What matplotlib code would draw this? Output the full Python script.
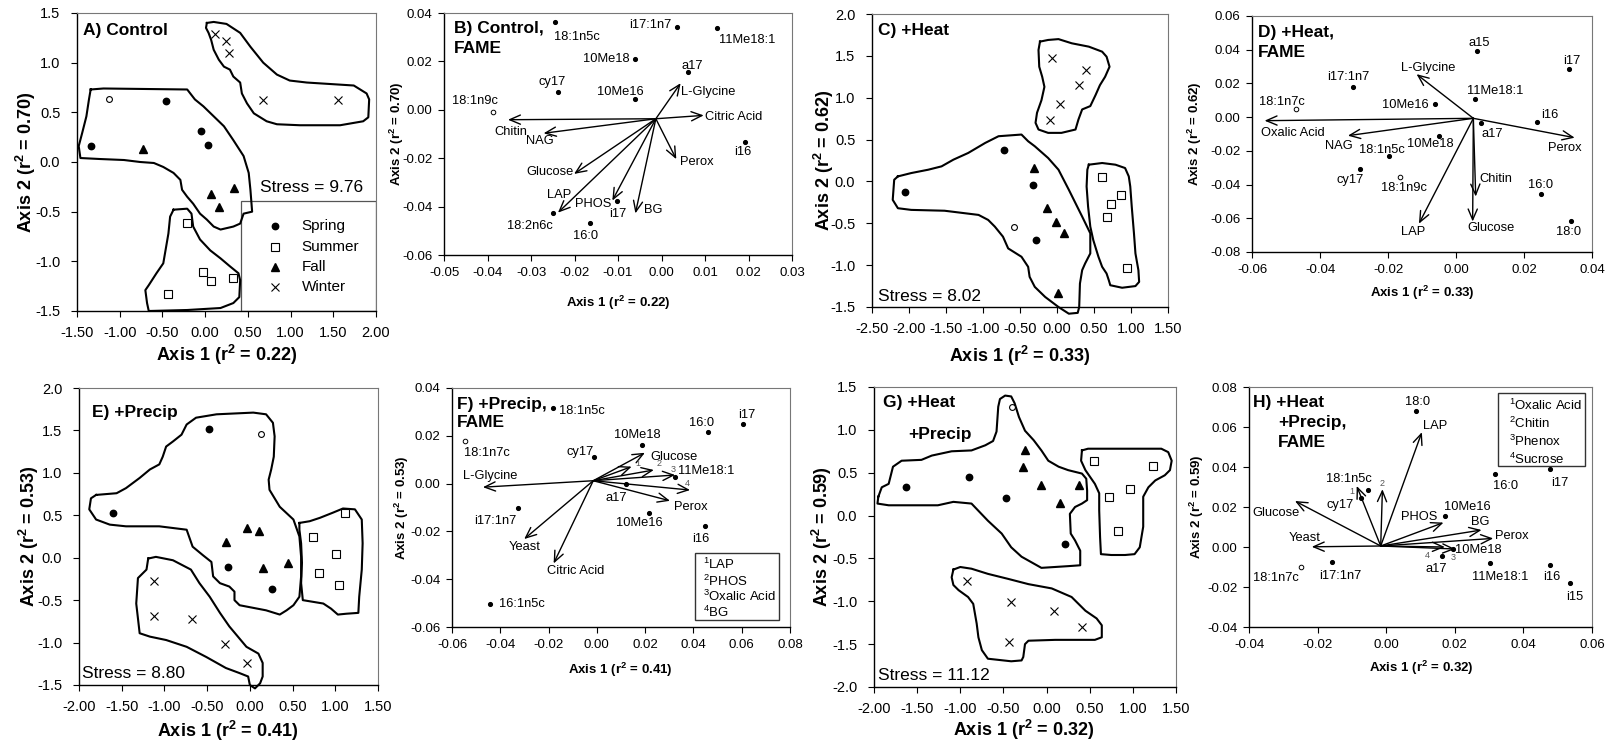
import numpy as np
import matplotlib
matplotlib.use('Agg')
import matplotlib.pyplot as plt
from matplotlib.patches import Rectangle

plt.rcParams['font.family'] = ['Liberation Sans', 'DejaVu Sans']
plt.rcParams['mathtext.fontset'] = 'custom'
plt.rcParams['mathtext.rm'] = 'Liberation Sans'
plt.rcParams['mathtext.bf'] = 'Liberation Sans:bold'
plt.rcParams['mathtext.it'] = 'Liberation Sans:italic'

W, H = 1610, 746

# ---------------- NMDS panels (A, C, E, G) ----------------
seasons = ['Spring', 'Summer', 'Fall', 'Winter']

a_spring_x = [-0.46, -1.34, -0.05, 0.03]
a_spring_y = [0.61, 0.16, 0.31, 0.17]
a_summer_x = [-0.21, -0.44, -0.02, 0.07, 0.33]
a_summer_y = [-0.61, -1.33, -1.11, -1.20, -1.17]
a_fall_x = [-0.73, 0.07, 0.34, 0.16]
a_fall_y = [0.13, -0.32, -0.26, -0.45]
a_winter_x = [0.11, 0.24, 0.28, 0.68, 1.56]
a_winter_y = [1.29, 1.22, 1.10, 0.62, 0.62]
a_open = (-1.12, 0.63)

c_spring_x = [-2.06, -0.72, -0.33, -0.29]
c_spring_y = [-0.13, 0.38, -0.04, -0.70]
c_summer_x = [0.61, 0.87, 0.73, 0.67, 0.95]
c_summer_y = [0.05, -0.16, -0.27, -0.42, -1.03]
c_fall_x = [-0.31, -0.13, -0.01, 0.10, 0.01]
c_fall_y = [0.16, -0.32, -0.48, -0.62, -1.33]
c_winter_x = [-0.07, 0.39, 0.30, 0.04, -0.09]
c_winter_y = [1.47, 1.33, 1.15, 0.92, 0.73]
c_open = (-0.58, -0.55)

e_spring_x = [-0.48, -1.60, -0.26, 0.26]
e_spring_y = [1.52, 0.53, -0.11, -0.37]
e_summer_x = [1.11, 0.74, 1.01, 0.81, 1.04]
e_summer_y = [0.53, 0.25, 0.04, -0.18, -0.32]
e_fall_x = [-0.28, -0.03, 0.11, 0.15, 0.45]
e_fall_y = [0.18, 0.35, 0.32, -0.12, -0.06]
e_winter_x = [-1.12, -1.12, -0.68, -0.29, -0.03]
e_winter_y = [-0.28, -0.69, -0.72, -1.02, -1.24]
e_open = (0.13, 1.46)

g_spring_x = [-1.63, -0.90, -0.47, 0.21]
g_spring_y = [0.33, 0.45, 0.20, -0.33]
g_summer_x = [0.55, 1.23, 0.97, 0.72, 0.83]
g_summer_y = [0.64, 0.58, 0.31, 0.22, -0.18]
g_fall_x = [-0.25, -0.27, -0.07, 0.16, 0.38]
g_fall_y = [0.76, 0.57, 0.36, 0.15, 0.36]
g_winter_x = [-0.92, -0.41, 0.09, 0.41, -0.43]
g_winter_y = [-0.76, -1.01, -1.11, -1.30, -1.48]
g_open = (-0.40, 1.27)

stress = {'A': '9.76', 'C': '8.02', 'E': '8.80', 'G': '11.12'}

# hand-drawn group outlines (data coordinates)
hull_a_winter = [(0.02, 1.40), (0.10, 1.41), (0.25, 1.39), (0.41, 1.30), (0.53, 1.16), (0.68, 1.00),
                 (0.84, 0.88), (0.99, 0.82), (1.19, 0.80), (1.74, 0.77), (1.89, 0.69), (1.92, 0.63),
                 (1.91, 0.45), (1.85, 0.41), (1.58, 0.37), (1.11, 0.37), (0.84, 0.38), (0.72, 0.41),
                 (0.57, 0.49), (0.49, 0.59), (0.43, 0.69), (0.41, 0.80), (0.33, 0.86), (0.29, 0.93),
                 (0.22, 0.96), (0.16, 1.03), (0.10, 1.13), (0.07, 1.23), (0.04, 1.30), (0.01, 1.35)]
hull_a_mid = [(-1.34, 0.73), (-1.19, 0.74), (-0.21, 0.73), (-0.12, 0.63), (-0.02, 0.56), (0.10, 0.46),
              (0.22, 0.36), (0.33, 0.22), (0.45, 0.06), (0.51, -0.11), (0.53, -0.28), (0.55, -0.50),
              (0.45, -0.52), (0.41, -0.62), (0.33, -0.65), (0.18, -0.68), (0.10, -0.65), (0.02, -0.58),
              (-0.06, -0.52), (-0.14, -0.42), (-0.21, -0.35), (-0.27, -0.28), (-0.29, -0.18),
              (-0.37, -0.11), (-0.49, -0.05), (-0.60, -0.01), (-0.76, 0.00), (-0.95, 0.02),
              (-1.23, 0.03), (-1.46, 0.04), (-1.48, 0.16), (-1.44, 0.29), (-1.39, 0.46), (-1.36, 0.63)]
hull_a_summer = [(-0.37, -0.48), (-0.21, -0.47), (-0.16, -0.52), (-0.14, -0.65), (-0.06, -0.78),
                 (0.06, -0.89), (0.18, -0.97), (0.29, -1.05), (0.39, -1.12), (0.41, -1.19),
                 (0.40, -1.36), (0.33, -1.42), (0.18, -1.47), (-0.21, -1.49), (-0.66, -1.50),
                 (-0.68, -1.42), (-0.70, -1.29), (-0.66, -1.24), (-0.57, -1.12), (-0.49, -1.02),
                 (-0.43, -0.72), (-0.41, -0.55)]

hull_c_winter = [(-0.23, 1.67), (-0.12, 1.69), (0.02, 1.70), (0.20, 1.65), (0.43, 1.61), (0.61, 1.55),
                 (0.67, 1.49), (0.71, 1.37), (0.65, 1.25), (0.58, 1.15), (0.52, 1.03), (0.45, 0.90),
                 (0.34, 0.86), (0.29, 0.74), (0.25, 0.62), (0.06, 0.58), (-0.12, 0.58), (-0.25, 0.62),
                 (-0.29, 0.70), (-0.27, 0.82), (-0.21, 0.97), (-0.17, 1.13), (-0.20, 1.25),
                 (-0.24, 1.37), (-0.25, 1.57)]
hull_c_mid = [(-2.15, 0.06), (-1.97, 0.10), (-1.74, 0.14), (-1.56, 0.18), (-1.40, 0.26), (-1.20, 0.34),
              (-0.97, 0.46), (-0.79, 0.54), (-0.48, 0.56), (-0.39, 0.48), (-0.30, 0.42), (-0.12, 0.28),
              (0.02, 0.14), (0.16, -0.10), (0.34, -0.42), (0.45, -0.62), (0.45, -0.86), (0.38, -0.98),
              (0.34, -1.06), (0.31, -1.22), (0.30, -1.50), (0.28, -1.57), (0.16, -1.58), (0.02, -1.50),
              (-0.16, -1.38), (-0.30, -1.26), (-0.37, -1.14), (-0.39, -1.02), (-0.48, -0.90),
              (-0.66, -0.80), (-0.73, -0.66), (-0.84, -0.54), (-0.93, -0.46), (-1.06, -0.40),
              (-1.52, -0.35), (-1.97, -0.34), (-2.15, -0.32), (-2.22, -0.22), (-2.20, 0.02)]
hull_c_summer = [(0.43, 0.20), (0.61, 0.22), (0.79, 0.20), (0.92, 0.16), (0.97, 0.06), (0.99, -0.06),
                 (1.01, -0.30), (1.04, -0.62), (1.06, -0.86), (1.10, -1.06), (1.11, -1.20),
                 (1.06, -1.25), (0.88, -1.27), (0.72, -1.24), (0.70, -1.18), (0.67, -1.10),
                 (0.61, -1.02), (0.56, -0.90), (0.49, -0.70), (0.45, -0.54), (0.42, -0.30),
                 (0.40, -0.06), (0.41, 0.14)]

hull_e_mid = [(-1.80, 0.74), (-1.68, 0.75), (-1.56, 0.76), (-1.45, 0.82), (-1.29, 0.94), (-1.17, 1.04),
              (-1.06, 1.10), (-1.02, 1.19), (-0.98, 1.31), (-0.90, 1.37), (-0.80, 1.45), (-0.74, 1.57),
              (-0.63, 1.65), (-0.39, 1.69), (0.04, 1.71), (0.19, 1.69), (0.27, 1.59), (0.29, 1.43),
              (0.28, 1.19), (0.25, 1.04), (0.22, 0.92), (0.23, 0.80), (0.35, 0.60), (0.51, 0.45),
              (0.58, 0.25), (0.60, 0.01), (0.60, -0.22), (0.58, -0.46), (0.51, -0.56), (0.43, -0.62),
              (0.35, -0.67), (0.19, -0.62), (-0.12, -0.56), (-0.18, -0.50), (-0.18, -0.40),
              (-0.24, -0.34), (-0.35, -0.30), (-0.43, -0.22), (-0.45, -0.05), (-0.55, 0.03),
              (-0.67, 0.13), (-0.74, 0.33), (-1.06, 0.37), (-1.45, 0.37), (-1.64, 0.39),
              (-1.80, 0.45), (-1.88, 0.57), (-1.86, 0.70)]
hull_e_summer = [(0.58, 0.41), (0.70, 0.43), (0.82, 0.47), (0.97, 0.53), (1.09, 0.58), (1.23, 0.57),
                 (1.31, 0.45), (1.32, 0.17), (1.31, -0.14), (1.28, -0.46), (1.27, -0.65),
                 (1.13, -0.66), (1.03, -0.67), (0.95, -0.60), (0.86, -0.54), (0.62, -0.50),
                 (0.60, -0.30), (0.61, -0.06), (0.60, 0.17), (0.58, 0.33)]
hull_e_winter = [(-1.19, -0.01), (-1.10, 0.01), (-0.90, -0.03), (-0.69, -0.14), (-0.59, -0.30),
                 (-0.47, -0.46), (-0.35, -0.65), (-0.24, -0.81), (-0.04, -1.05), (0.10, -1.13),
                 (0.15, -1.24), (0.15, -1.40), (0.12, -1.48), (0.06, -1.54), (0.00, -1.50),
                 (-0.02, -1.40), (-0.12, -1.36), (-0.28, -1.30), (-0.51, -1.17), (-0.74, -1.05),
                 (-0.98, -0.97), (-1.17, -0.93), (-1.29, -0.89), (-1.33, -0.54), (-1.31, -0.24),
                 (-1.21, -0.14)]

hull_g_mid = [(-1.95, 0.22), (-1.91, 0.33), (-1.83, 0.37), (-1.78, 0.57), (-1.68, 0.64), (-1.45, 0.65),
              (-1.33, 0.70), (-1.10, 0.75), (-0.87, 0.76), (-0.71, 0.82), (-0.62, 0.87), (-0.58, 0.98),
              (-0.56, 1.27), (-0.54, 1.36), (-0.48, 1.40), (-0.41, 1.39), (-0.37, 1.31), (-0.32, 1.15),
              (-0.25, 0.99), (-0.15, 0.88), (-0.06, 0.76), (0.02, 0.64), (0.14, 0.57), (0.25, 0.53),
              (0.41, 0.49), (0.46, 0.43), (0.47, 0.29), (0.47, 0.18), (0.41, 0.14), (0.33, 0.10),
              (0.27, 0.02), (0.28, -0.21), (0.33, -0.29), (0.39, -0.41), (0.39, -0.58), (0.25, -0.59),
              (-0.06, -0.61), (-0.29, -0.48), (-0.41, -0.37), (-0.52, -0.21), (-0.68, -0.06),
              (-0.87, 0.14), (-1.08, 0.16), (-1.26, 0.12), (-1.68, 0.12), (-1.83, 0.12), (-1.96, 0.14)]
hull_g_summer = [(0.41, 0.76), (0.48, 0.78), (1.33, 0.78), (1.41, 0.74), (1.45, 0.64), (1.43, 0.53),
                 (1.37, 0.47), (1.26, 0.41), (1.18, 0.33), (1.12, 0.22), (1.12, -0.13), (1.08, -0.37),
                 (1.02, -0.45), (0.91, -0.46), (0.75, -0.46), (0.63, -0.45), (0.62, -0.25),
                 (0.61, 0.06), (0.61, 0.26), (0.56, 0.37), (0.45, 0.53), (0.40, 0.64)]
hull_g_winter = [(-1.08, -0.63), (-1.00, -0.60), (-0.87, -0.62), (-0.68, -0.68), (-0.44, -0.74),
                 (-0.21, -0.80), (0.06, -0.85), (0.29, -0.95), (0.45, -1.11), (0.58, -1.20),
                 (0.64, -1.28), (0.64, -1.42), (0.56, -1.45), (0.10, -1.45), (-0.21, -1.46),
                 (-0.25, -1.50), (-0.27, -1.65), (-0.29, -1.69), (-0.41, -1.70), (-0.68, -1.67),
                 (-0.75, -1.57), (-0.79, -1.42), (-0.81, -1.26), (-0.85, -1.03), (-0.91, -0.95),
                 (-1.02, -0.87), (-1.08, -0.81), (-1.10, -0.72)]

# ---------------- FAME biplot panels (B, D, F, H) ----------------
b_fame = ['18:1n5c', 'i17:1n7', '11Me18:1', '10Me18', 'a17', 'cy17', '10Me16', '18:1n9c',
          'i16', 'i17', '18:2n6c', '16:0']
b_fame_x = [-0.0244, 0.0036, 0.0127, -0.0061, 0.0062, -0.0239, -0.0061, -0.0387,
            0.0192, -0.0102, -0.0249, -0.0164]
b_fame_y = [0.0361, 0.0343, 0.0337, 0.0208, 0.0157, 0.0073, 0.0045, -0.0011,
            -0.0134, -0.0375, -0.0426, -0.0469]
b_vars = ['Chitin', 'NAG', 'L-Glycine', 'Citric Acid', 'Perox', 'Glucose', 'LAP', 'PHOS', 'BG']
b_vars_x = [-0.0353, -0.0271, 0.0044, 0.0097, 0.0034, -0.0201, -0.0238, -0.0113, -0.0060]
b_vars_y = [-0.0041, -0.0097, 0.0110, -0.0023, -0.0204, -0.0265, -0.0425, -0.0375, -0.0428]
b_origin = (-0.0013, -0.0037)

d_fame = ['a15', 'i17', 'i17:1n7', '11Me18:1', '10Me16', '18:1n7c', 'i16', 'a17', '10Me18',
          '18:1n5c', 'cy17', '18:1n9c', '16:0', '18:0']
d_fame_x = [0.0063, 0.0332, -0.0304, 0.0056, -0.0061, -0.0470, 0.0239, 0.0073, -0.0051,
            -0.0197, -0.0282, -0.0165, 0.0249, 0.0337]
d_fame_y = [0.0391, 0.0284, 0.0180, 0.0107, 0.0075, 0.0050, -0.0031, -0.0037, -0.0110,
            -0.0228, -0.0307, -0.0354, -0.0457, -0.0619]
d_vars = ['L-Glycine', 'Oxalic Acid', 'NAG', 'Perox', 'LAP', 'Glucose', 'Chitin']
d_vars_x = [-0.0116, -0.0563, -0.0318, 0.0349, -0.0109, 0.0049, 0.0058]
d_vars_y = [0.0255, -0.0021, -0.0110, -0.0122, -0.0632, -0.0619, -0.0471]
d_origin = (0.0051, -0.0007)

f_fame = ['18:1n5c', '18:1n7c', 'i17', '16:0', '10Me18', 'cy17', '11Me18:1', 'a17', 'i17:1n7',
          '10Me16', 'i16', '16:1n5c']
f_fame_x = [-0.0183, -0.0548, 0.0604, 0.0459, 0.0188, -0.0011, 0.0324, 0.0121, -0.0328,
            0.0216, 0.0446, -0.0441]
f_fame_y = [0.0316, 0.0178, 0.0249, 0.0217, 0.0160, 0.0110, 0.0029, -0.0002, -0.0102,
            -0.0124, -0.0176, -0.0502]
f_vars = ['L-Glycine', 'Glucose', 'LAP', 'PHOS', 'Oxalic Acid', 'BG', 'Perox', 'Yeast', 'Citric Acid']
f_vars_x = [-0.0472, 0.0199, 0.0144, 0.0236, 0.0324, 0.0386, 0.0303, -0.0301, -0.0179]
f_vars_y = [-0.0015, 0.0129, 0.0071, 0.0057, 0.0036, -0.0027, -0.0072, -0.0232, -0.0334]
f_origin = (-0.0015, 0.0012)
f_tagged = ['LAP', 'PHOS', 'Oxalic Acid', 'BG']

h_fame = ['18:0', '16:0', 'i17', '18:1n5c', 'cy17', '10Me16', 'a17', '10Me18', '11Me18:1',
          'i17:1n7', '18:1n7c', 'i16', 'i15']
h_fame_x = [0.0086, 0.0317, 0.0479, -0.0054, -0.0073, 0.0171, 0.0162, 0.0195, 0.0303,
            -0.0157, -0.0248, 0.0477, 0.0536]
h_fame_y = [0.0680, 0.0365, 0.0389, 0.0285, 0.0243, 0.0155, -0.0043, -0.0010, -0.0078,
            -0.0073, -0.0099, -0.0089, -0.0179]
h_vars = ['LAP', 'Oxalic Acid', 'Chitin', 'Glucose', 'PHOS', 'BG', 'Perox', 'Yeast', 'Phenox', 'Sucrose']
h_vars_x = [0.0104, -0.0086, -0.0011, -0.0266, 0.0167, 0.0278, 0.0312, -0.0217, 0.0201, 0.0171]
h_vars_y = [0.0574, 0.0305, 0.0289, 0.0230, 0.0122, 0.0085, 0.0043, 0.0001, -0.0010, 0.0000]
h_origin = (-0.0016, 0.0005)
h_tagged = ['Oxalic Acid', 'Chitin', 'Phenox', 'Sucrose']

open_fame = ['18:1n9c', '18:1n7c']

# ---------------- layout (pixel offsets of labels) ----------------
b_pt_off = {'18:1n5c': (22, -15), 'i17:1n7': (-27, 2), '11Me18:1': (30, -12), '10Me18': (-29, 0),
            'a17': (4, 6), 'cy17': (-5, 10), '10Me16': (-15, 7), '18:1n9c': (-18, 11),
            'i16': (-2, -10), 'i17': (1, -13), '18:2n6c': (-23, -13), '16:0': (-5, -13)}
b_var_off = {'Chitin': (3, -12), 'NAG': (-4, -8), 'L-Glycine': (28, -9), 'Citric Acid': (30, -2),
             'Perox': (21, -3), 'Glucose': (-24, 2), 'LAP': (1, 18), 'PHOS': (-19, -3), 'BG': (18, 3)}
d_pt_off = {'a15': (2, 8), 'i17': (3, 8), 'i17:1n7': (-4, 10), '11Me18:1': (20, 8), '10Me16': (-30, -1),
            '18:1n7c': (-14, 7), 'i16': (12, 7), 'a17': (11, -11), '10Me18': (-8, -8),
            '18:1n5c': (-7, 6), 'cy17': (-10, -11), '18:1n9c': (4, -11), '16:0': (0, 9), '18:0': (-2, -11)}
d_var_off = {'L-Glycine': (12, 6), 'Oxalic Acid': (28, -12), 'NAG': (-9, -10), 'Perox': (-10, -10),
             'LAP': (-6, -8), 'Glucose': (18, -7), 'Chitin': (20, 18)}
f_pt_off = {'18:1n5c': (29, -3), '18:1n7c': (22, -12), 'i17': (4, 9), '16:0': (-6, 9), '10Me18': (-5, 10),
            'cy17': (-14, 5), '11Me18:1': (31, 6), 'a17': (-10, -14), 'i17:1n7': (-22, -13),
            '10Me16': (-10, -10), 'i16': (-4, -13), '16:1n5c': (31, 0)}
f_var_off = {'L-Glycine': (7, 11), 'Glucose': (29, -4), 'LAP': (6, 3), 'PHOS': (5, 6),
             'Oxalic Acid': (-2, 5), 'BG': (-3, 7), 'Perox': (21, -6), 'Yeast': (0, -8),
             'Citric Acid': (22, -8)}
h_pt_off = {'18:0': (2, 9), '16:0': (11, -12), 'i17': (9, -14), '18:1n5c': (-19, 11), 'cy17': (-21, -7),
            '10Me16': (22, 9), 'a17': (-6, -13), '10Me18': (25, -1), '11Me18:1': (10, -14),
            'i17:1n7': (8, -14), '18:1n7c': (-25, -11), 'i16': (2, -12), 'i15': (5, -14)}
h_var_off = {'LAP': (13, 6), 'Oxalic Acid': (-5, -5), 'Chitin': (0, 6), 'Glucose': (-19, -12),
             'PHOS': (-24, 6), 'BG': (-1, 8), 'Perox': (19, 2), 'Yeast': (-7, 9),
             'Phenox': (-2, -9), 'Sucrose': (-18, -8)}

season_style = {
    'Spring': dict(marker='o', mfc='k', mec='k', ms=4.6),
    'Summer': dict(marker='s', mfc='white', mec='k', ms=5.4, mew=0.8),
    'Fall': dict(marker='^', mfc='k', mec='k', ms=5.8),
    'Winter': dict(marker='x', mfc='none', mec='k', ms=5.4, mew=0.8),
}

fig = plt.figure(figsize=(W / 100, H / 100), dpi=100)
fig.patch.set_facecolor('white')


def px_axes(l, t, r, b):
    return fig.add_axes([l / W, 1 - b / H, (r - l) / W, (b - t) / H])


def fmt(v, nd):
    return f'{round(v, 6) + 0.0:.{nd}f}'


def style_axes(ax, xt, yt, xnd, ynd, fs, padx, pady):
    ax.set_xlim(xt[0], xt[-1])
    ax.set_ylim(yt[0], yt[-1])
    ax.set_xticks(xt)
    ax.set_yticks(yt)
    ax.set_xticklabels([fmt(v, xnd) for v in xt])
    ax.set_yticklabels([fmt(v, ynd) for v in yt])
    ax.tick_params(axis='both', direction='out', length=4, width=0.8, labelsize=fs)
    ax.tick_params(axis='x', pad=padx)
    ax.tick_params(axis='y', pad=pady)
    for s in ['left', 'bottom']:
        ax.spines[s].set_color('k')
        ax.spines[s].set_linewidth(1.0)
    for s in ['top', 'right']:
        ax.spines[s].set_color('#777777')
        ax.spines[s].set_linewidth(0.8)


def axis_labels(xc, xy, yx, yc, r1, r2, fs):
    fig.text(xc / W, 1 - xy / H, r'Axis 1 (r$^{\mathbf{2}}$ = ' + r1 + ')', ha='center', va='center',
             fontsize=fs, fontweight='bold')
    fig.text(yx / W, 1 - yc / H, r'Axis 2 (r$^{\mathbf{2}}$ = ' + r2 + ')', ha='center', va='center',
             fontsize=fs, fontweight='bold', rotation=90)


def nmds(ax, groups, open_pt, hulls):
    for hull in hulls:
        arr = np.array(hull + [hull[0]])
        ax.plot(arr[:, 0], arr[:, 1], color='k', lw=1.5, clip_on=False, solid_joinstyle='round')
    for name, (gx, gy) in zip(seasons, groups):
        ax.plot(gx, gy, ls='none', clip_on=False, **season_style[name])
    ax.plot(open_pt[0], open_pt[1], 'o', mfc='white', mec='k', ms=4.2, mew=0.8)


def biplot(ax, names, xs, ys, pt_off, vnames, vx, vy, origin, var_off, tagged=()):
    for n, x, y in zip(names, xs, ys):
        if n in open_fame:
            ax.plot(x, y, 'o', mfc='white', mec='k', ms=3.3, mew=0.7)
        else:
            ax.plot(x, y, 'o', mfc='k', mec='k', ms=2.7)
        ax.annotate(n, (x, y), xytext=pt_off[n], textcoords='offset pixels',
                    ha='center', va='center', fontsize=9.3)
    for n, x, y in zip(vnames, vx, vy):
        ax.annotate('', xy=(x, y), xytext=origin,
                    arrowprops=dict(arrowstyle='->,head_length=0.7,head_width=0.3', lw=1.0,
                                    color='k', shrinkA=0, shrinkB=0, mutation_scale=11))
        if n in tagged:
            ax.annotate(str(list(tagged).index(n) + 1), (x, y), xytext=var_off[n],
                        textcoords='offset pixels', ha='center', va='center', fontsize=6.5,
                        color='#555555')
        else:
            ax.annotate(n, (x, y), xytext=var_off[n], textcoords='offset pixels',
                        ha='center', va='center', fontsize=9.3)


def tag_legend(ax, tagged, x0, y0, w, h, tx, rows):
    ax.add_patch(Rectangle((x0, y0), w, h, transform=ax.transAxes, fill=False,
                           ec='#333333', lw=1.0, clip_on=False))
    for i, (n, ry) in enumerate(zip(tagged, rows)):
        ax.text(tx, ry, f'$^{{{i + 1}}}$' + n, transform=ax.transAxes, ha='left', va='center',
                fontsize=9.5)


# ---- A ----
ax = px_axes(77, 13, 376, 311)
nmds(ax, [(a_spring_x, a_spring_y), (a_summer_x, a_summer_y), (a_fall_x, a_fall_y),
          (a_winter_x, a_winter_y)], a_open, [hull_a_winter, hull_a_mid, hull_a_summer])
style_axes(ax, np.arange(-1.5, 2.01, 0.5), np.arange(-1.5, 1.51, 0.5), 2, 1, 10.5, 6.5, 8)
ax.text(0.02, 0.94, 'A) Control', transform=ax.transAxes, fontsize=12.5, fontweight='bold', va='center')
ax.text(0.785, 0.414, 'Stress = ' + stress['A'], transform=ax.transAxes, fontsize=12.5,
        ha='center', va='center')
ax.add_patch(Rectangle((0.55, 0.0), 0.45, 0.37, transform=ax.transAxes, fill=False,
                       ec='#555555', lw=0.9))
for name, ry in zip(seasons, [0.286, 0.216, 0.149, 0.080]):
    ax.plot([0.662], [ry], transform=ax.transAxes, ls='none', **season_style[name])
    ax.text(0.752, ry, name, transform=ax.transAxes, fontsize=11, va='center')
axis_labels(226.5, 355, 26, 162, '0.22', '0.70', 13)

# ---- B ----
ax = px_axes(444, 13, 792, 255)
biplot(ax, b_fame, b_fame_x, b_fame_y, b_pt_off, b_vars, b_vars_x, b_vars_y, b_origin, b_var_off)
style_axes(ax, np.arange(-0.05, 0.0301, 0.01), np.arange(-0.06, 0.0401, 0.02), 2, 2, 9.5, 4.5, 4.5)
ax.text(0.029, 0.934, 'B) Control,', transform=ax.transAxes, fontsize=12.5, fontweight='bold', va='center')
ax.text(0.029, 0.855, 'FAME', transform=ax.transAxes, fontsize=12.5, fontweight='bold', va='center')
axis_labels(618, 303, 397, 134, '0.22', '0.70', 9.5)

# ---- C ----
ax = px_axes(872, 14, 1168, 307)
nmds(ax, [(c_spring_x, c_spring_y), (c_summer_x, c_summer_y), (c_fall_x, c_fall_y),
          (c_winter_x, c_winter_y)], c_open, [hull_c_winter, hull_c_mid, hull_c_summer])
style_axes(ax, np.arange(-2.5, 1.51, 0.5), np.arange(-1.5, 2.01, 0.5), 2, 1, 10.5, 6.5, 8)
ax.text(0.02, 0.943, 'C) +Heat', transform=ax.transAxes, fontsize=12.5, fontweight='bold', va='center')
ax.text(0.02, 0.0375, 'Stress = ' + stress['C'], transform=ax.transAxes, fontsize=12.5, va='center')
axis_labels(1020, 356, 824, 160.5, '0.33', '0.62', 13)

# ---- D ----
ax = px_axes(1252, 16, 1592, 252)
biplot(ax, d_fame, d_fame_x, d_fame_y, d_pt_off, d_vars, d_vars_x, d_vars_y, d_origin, d_var_off)
style_axes(ax, np.arange(-0.06, 0.0401, 0.02), np.arange(-0.08, 0.0601, 0.02), 2, 2, 9.5, 4.5, 4.5)
ax.text(0.018, 0.928, 'D) +Heat,', transform=ax.transAxes, fontsize=12.5, fontweight='bold', va='center')
ax.text(0.018, 0.847, 'FAME', transform=ax.transAxes, fontsize=12.5, fontweight='bold', va='center')
axis_labels(1422, 293, 1195, 134, '0.33', '0.62', 9.5)

# ---- E ----
ax = px_axes(79, 388, 378, 685)
nmds(ax, [(e_spring_x, e_spring_y), (e_summer_x, e_summer_y), (e_fall_x, e_fall_y),
          (e_winter_x, e_winter_y)], e_open, [hull_e_mid, hull_e_summer, hull_e_winter])
style_axes(ax, np.arange(-2.0, 1.51, 0.5), np.arange(-1.5, 2.01, 0.5), 2, 1, 10.5, 6.5, 8)
ax.text(0.043, 0.919, 'E) +Precip', transform=ax.transAxes, fontsize=12.5, fontweight='bold', va='center')
ax.text(0.01, 0.04, 'Stress = ' + stress['E'], transform=ax.transAxes, fontsize=12.5, va='center')
axis_labels(228, 731, 29, 536.5, '0.41', '0.53', 13)

# ---- F ----
ax = px_axes(452, 388, 790, 627)
biplot(ax, f_fame, f_fame_x, f_fame_y, f_pt_off, f_vars, f_vars_x, f_vars_y, f_origin, f_var_off,
       tagged=f_tagged)
style_axes(ax, np.arange(-0.06, 0.0801, 0.02), np.arange(-0.06, 0.0401, 0.02), 2, 2, 9.5, 4.5, 4.5)
ax.text(0.015, 0.929, 'F) +Precip,', transform=ax.transAxes, fontsize=12.5, fontweight='bold', va='center')
ax.text(0.015, 0.854, 'FAME', transform=ax.transAxes, fontsize=12.5, fontweight='bold', va='center')
tag_legend(ax, f_tagged, 0.719, 0.028, 0.247, 0.282, 0.743, [0.262, 0.192, 0.127, 0.061])
axis_labels(620, 670, 402, 507.5, '0.41', '0.53', 9.5)

# ---- G ----
ax = px_axes(874, 387, 1176, 687)
nmds(ax, [(g_spring_x, g_spring_y), (g_summer_x, g_summer_y), (g_fall_x, g_fall_y),
          (g_winter_x, g_winter_y)], g_open, [hull_g_mid, hull_g_summer, hull_g_winter])
style_axes(ax, np.arange(-2.0, 1.51, 0.5), np.arange(-2.0, 1.51, 0.5), 2, 1, 10.5, 6.5, 8)
ax.text(0.03, 0.947, 'G) +Heat', transform=ax.transAxes, fontsize=12.5, fontweight='bold', va='center')
ax.text(0.113, 0.843, '+Precip', transform=ax.transAxes, fontsize=12.5, fontweight='bold', va='center')
ax.text(0.013, 0.037, 'Stress = ' + stress['G'], transform=ax.transAxes, fontsize=12.5, va='center')
axis_labels(1024, 730, 822, 537, '0.32', '0.59', 13)

# ---- H ----
ax = px_axes(1249, 387, 1592, 627)
biplot(ax, h_fame, h_fame_x, h_fame_y, h_pt_off, h_vars, h_vars_x, h_vars_y, h_origin, h_var_off,
       tagged=h_tagged)
style_axes(ax, np.arange(-0.04, 0.0601, 0.02), np.arange(-0.04, 0.0801, 0.02), 2, 2, 9.5, 4.5, 4.5)
ax.text(0.012, 0.9375, 'H) +Heat', transform=ax.transAxes, fontsize=12.5, fontweight='bold', va='center')
ax.text(0.085, 0.85, '+Precip,', transform=ax.transAxes, fontsize=12.5, fontweight='bold', va='center')
ax.text(0.085, 0.767, 'FAME', transform=ax.transAxes, fontsize=12.5, fontweight='bold', va='center')
tag_legend(ax, h_tagged, 0.726, 0.669, 0.255, 0.306, 0.759, [0.922, 0.849, 0.775, 0.699])
axis_labels(1421, 668, 1197, 507, '0.32', '0.59', 9.5)

fig.savefig('out.png', dpi=100, facecolor='white')
